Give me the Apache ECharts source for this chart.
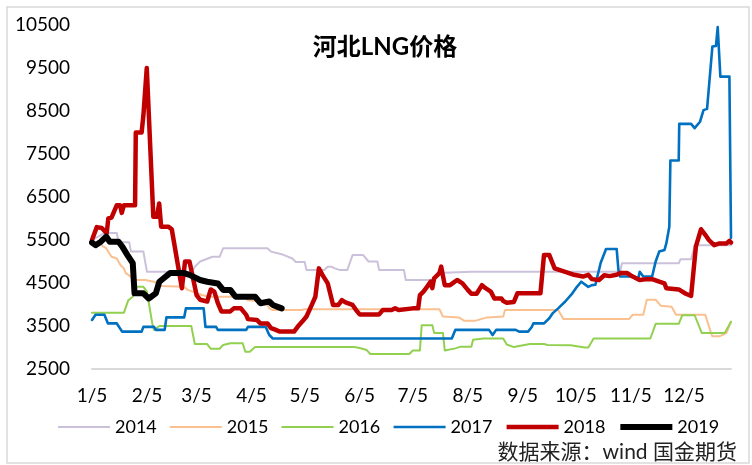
<!DOCTYPE html>
<html>
<head>
<meta charset="utf-8">
<title>河北LNG价格</title>
<script src="https://cdn.jsdelivr.net/npm/echarts@6/dist/echarts.min.js"></script>
<style>
  html, body { margin: 0; padding: 0; background: #fff; }
  #chart { width: 752px; height: 465px; }
</style>
</head>
<body>
<div id="chart"></div>
<script>
// x = day of year (1/5 = 5), y = 元/吨
var xTickDays = [5, 36, 64, 95, 125, 156, 186, 217, 248, 278, 309, 339];
var xTickLabels = ['1/5', '2/5', '3/5', '4/5', '5/5', '6/5', '7/5', '8/5', '9/5', '10/5', '11/5', '12/5'];
var yTicks = [2500, 3500, 4500, 5500, 6500, 7500, 8500, 9500, 10500];
var years = ['2014', '2015', '2016', '2017', '2018', '2019'];

var data2014 = [[5,5500],[12,5660],[19,5660],[20,5450],[26,5450],[27,5230],[34,5230],[36,4760],[46,4760],[47,4730],
  [61,4730],[63,4880],[66,5000],[73,5110],[77,5110],[79,5310],[104,5310],[106,5230],[112,5170],[118,5070],[120,4990],
  [125,4990],[126,4800],[136,4800],[138,4880],[140,4880],[142,4840],[145,4800],[149,4800],[152,5150],[158,5150],
  [161,5000],[166,5000],[167,4800],[181,4800],[182,4570],[198,4570],[200,4730],[219,4760],[303,4760],[304,4960],
  [336,4960],[337,5050],[343,5050],[345,5380],[365.5,5380]];

var data2015 = [[5,5460],[9.5,5410],[11,5360],[13,5310],[16,5110],[19,5070],[21,4920],[23,4840],[24,4730],[25.5,4690],
  [29,4570],[35,4570],[40,4530],[44,4430],[57,4410],[59,4340],[67,4220],[71,4180],[91,4180],[93,4100],[103,4070],
  [105,3910],[107,3870],[123,3870],[125,3890],[201,3890],[203,3720],[212,3700],[215,3620],[221,3620],[228,3700],
  [237,3720],[238,3870],[268,3870],[271,3660],[308,3660],[310,3760],[316,3760],[318,4110],[323,4110],[326,3970],
  [332,3950],[334.5,3760],[351,3760],[354,3370],[355,3260],[359,3260],[363,3340],[365.5,3600]];

var data2016 = [[5,3810],[23,3810],[25.5,4100],[28,4180],[29,4410],[34,4410],[36,4300],[39,3560],[40,3410],[43,3500],
  [61,3500],[63,3080],[70,3080],[72,2970],[77,2970],[79,3060],[83,3100],[90,3100],[91.5,2900],[94,2900],[97,3010],
  [153,3010],[156,2990],[160,2940],[162,2850],[184,2850],[186,2930],[190,2930],[191,3520],[197,3520],[198,3340],
  [203,3340],[204,2930],[210,2980],[213,3020],[219,3020],[220,3180],[226,3210],[237,3210],[239,3070],[243,3010],
  [252,3080],[260,3080],[262,3060],[275,3050],[283,3000],[285,3000],[288,3210],[320,3210],[323,3550],[336,3550],
  [338,3750],[345,3750],[349,3340],[362,3340],[365.5,3600]];

var data2017 = [[5,3640],[7,3760],[12,3760],[14,3560],[19,3560],[22,3370],[33,3370],[34,3480],[40,3480],[41,3410],
  [46,3410],[47,3700],[57,3700],[58,3910],[68,3910],[69,3480],[75,3480],[76,3410],[92,3410],[93,3480],[103,3480],
  [105,3290],[107,3210],[208,3210],[210,3410],[229,3410],[231,3290],[233,3410],[244,3410],[246,3370],[251,3370],
  [253,3470],[254,3560],[260,3560],[263,3680],[265,3800],[268,3910],[270,3990],[272,4070],[276,4260],[278,4380],
  [281,4530],[285,4410],[287,4450],[289,4460],[292,4970],[295,5290],[301,5290],[302,4800],[303,4650],[310,4650],
  [313,4570],[314,4760],[316,4650],[321,4650],[323,5000],[325,5230],[328,5270],[329,5420],[330.7,5810],[331.3,7350],
  [336,7350],[336.3,8200],[343,8200],[345,8100],[348,8250],[350,8520],[352,8550],[355,10000],[357,10010],[358,10450],
  [359.5,9300],[364.6,9300],[365.5,5550]];

var data2018 = [[5,5500],[7.7,5800],[10.5,5780],[13.3,5660],[14.2,6000],[16,6020],[19,6310],[20.8,6310],[21.8,6130],
  [23,6310],[29.3,6310],[29.7,8000],[33,8000],[34,8400],[35,8400],[35.9,9500],[36.8,9500],[39.6,6040],[41.6,6040],
  [42.9,6350],[44,5810],[48,5810],[50,5750],[55.7,4380],[57.5,5000],[60,5000],[64,4220],[66,4110],[70,4070],[72,4350],
  [74,4300],[76,4030],[78,3840],[83,3840],[85,3910],[89,3910],[92,3760],[93,3660],[98,3640],[100,3560],[104,3560],
  [106,3450],[108,3420],[111,3370],[119,3370],[121,3480],[124,3620],[126,3720],[129,3990],[131,4180],[133,4840],
  [135,4690],[138,4490],[141,3990],[144,3990],[146,4100],[148,4050],[152,3990],[154,3870],[156,3770],[167,3770],
  [169,3870],[174,3870],[176,3910],[178,3870],[186,3910],[189,3910],[190,4220],[192,4300],[194,4410],[196,4530],
  [197,4380],[198,4610],[201,4730],[202,4880],[204,4450],[207,4450],[211,4570],[214,4490],[217,4340],[219,4250],
  [222,4250],[225,4450],[227,4380],[230,4300],[232,4140],[236,4140],[237,4080],[239,4040],[243,4060],[245,4260],
  [258,4260],[260,5150],[263,5150],[266,4840],[269,4800],[272,4760],[277,4690],[282,4650],[285,4690],[287,4590],
  [291,4570],[294,4680],[297,4660],[301,4690],[303,4730],[307,4730],[310,4650],[314,4570],[318,4590],[321,4590],
  [325,4530],[328,4490],[329,4380],[336,4350],[340,4250],[343,4200],[345.7,5350],[348.6,5750],[351,5620],[353,5500],
  [356,5380],[359,5420],[363,5420],[364.6,5480],[365.5,5440]];

var data2019 = [[5,5440],[7,5380],[10,5460],[13,5580],[15,5460],[20,5460],[22,5350],[25,5150],[28,4960],[29,4260],
  [34,4260],[37,4140],[41,4260],[43,4530],[49,4730],[57,4730],[60,4690],[66,4570],[70,4530],[76,4490],[79,4340],
  [83,4340],[86,4180],[97,4180],[100,4030],[105,4070],[107,3990],[112,3910]];

var seriesData = [data2014, data2015, data2016, data2017, data2018, data2019];
var colors = ['#CCC1DA', '#FAC090', '#92D050', '#0070C0', '#C00000', '#000000'];
var widths = [2, 2, 2, 2.6, 4.5, 6];

var fontLatin = 'Lato, "Noto Sans CJK SC", sans-serif';

var chart = echarts.init(document.getElementById('chart'));

var series = years.map(function (name, i) {
  return {
    name: name,
    type: 'line',
    data: seriesData[i],
    symbol: 'none',
    smooth: false,
    animation: false,
    lineStyle: { color: colors[i], width: widths[i], join: 'round', cap: 'round' },
    itemStyle: { color: colors[i] }
  };
});

var legendItems = years.map(function (name, i) {
  return {
    name: name,
    itemStyle: { opacity: 0 },
    lineStyle: { color: colors[i], width: widths[i], cap: 'butt' }
  };
});

chart.setOption({
  backgroundColor: '#fff',
  animation: false,
  title: {
    text: '河北LNG价格',
    left: 380,
    top: 30,
    textAlign: 'center',
    textStyle: { fontFamily: fontLatin, fontWeight: 'bold', fontSize: 24, color: '#000' }
  },
  legend: {
    data: legendItems,
    left: 57,
    top: 418,
    padding: 0,
    itemWidth: 52,
    itemHeight: 14,
    itemGap: 12,
    itemStyle: { opacity: 0 },
    textStyle: { fontFamily: fontLatin, fontSize: 18, color: '#000' }
  },
  grid: { left: 92, right: 21, top: 25, bottom: 96, containLabel: false },
  xAxis: {
    type: 'value',
    min: 5,
    max: 365.5,
    axisLine: { show: true, lineStyle: { color: '#D9D9D9', width: 2 } },
    axisTick: { show: false },
    splitLine: { show: false },
    axisLabel: {
      customValues: xTickDays,
      formatter: function (v) {
        var k = xTickDays.indexOf(v);
        return k >= 0 ? xTickLabels[k] : '';
      },
      margin: 17,
      fontFamily: fontLatin,
      fontSize: 19,
      color: '#000'
    }
  },
  yAxis: {
    type: 'value',
    min: 2500,
    max: 10500,
    axisLine: { show: false },
    axisTick: { show: false },
    splitLine: { show: false },
    axisLabel: {
      customValues: yTicks,
      formatter: function (v) { return String(v); },
      margin: 22,
      fontFamily: fontLatin,
      fontSize: 19,
      color: '#000'
    }
  },
  graphic: [
    {
      type: 'rect',
      shape: { x: 7, y: 7, width: 742, height: 456 },
      style: { fill: 'none', stroke: '#D9D9D9', lineWidth: 1.5 },
      silent: true
    },
    {
      type: 'text',
      right: 15,
      top: 442,
      style: { text: '数据来源：wind 国金期货', fontFamily: fontLatin, fontSize: 21, fill: '#222' }
    }
  ],
  series: series
});
</script>
</body>
</html>
